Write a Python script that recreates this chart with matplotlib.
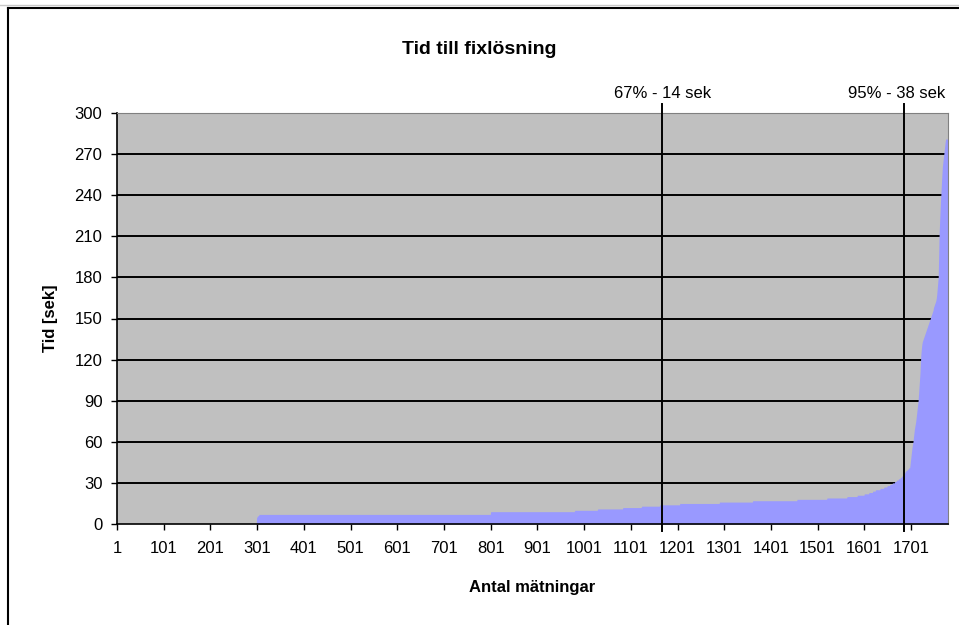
import numpy as np
import matplotlib
matplotlib.use("Agg")
import matplotlib.pyplot as plt
from matplotlib.lines import Line2D

plt.rcParams['font.family'] = ['Liberation Sans', 'DejaVu Sans']

# sorterade tider [sek] med antal mätningar per värde
tid_varden = [0, 5, 6, 7, 9, 10, 11, 12, 13, 14, 15, 16, 17, 18, 19, 20, 21, 22, 23, 24,
              25, 26, 27, 28, 29, 30, 31, 32, 33, 34, 35, 36, 37, 38, 39, 40, 41]
antal = [299, 2, 3, 496, 180, 49, 54, 40, 39, 43, 85, 71, 95, 64, 43, 22, 15, 10, 8, 6,
         10, 8, 7, 6, 5, 5, 4, 4, 4, 3, 3, 2, 2, 2, 3, 3, 3]
# de sista (längsta) tiderna, en mätning var
svans = [44, 47, 50, 53, 56, 58, 60, 63, 66, 69, 71, 73, 75, 78, 81, 84, 87, 90, 95, 100,
         105, 110, 118, 124, 128, 131, 133, 134, 135, 136, 137, 138, 139, 140, 141, 142,
         143, 144, 145, 146, 147, 148, 149, 150, 151, 152, 153, 154, 155, 156, 158, 159,
         160, 161, 162, 163, 165, 168, 172, 176, 180, 195, 212, 220, 228, 236, 242, 249,
         255, 261, 264, 267, 270, 273, 276, 279, 281, 281, 281, 281, 281, 281]

percentiler = [1168, 1686]
percentil_text = ["67% - 14 sek", "95% - 38 sek"]

tid = np.concatenate([np.repeat(tid_varden, antal), svans])
n = len(tid)
x = np.arange(1, n + 1)

fig = plt.figure(figsize=(9.59, 6.25), dpi=100)
ax = fig.add_axes([117/959, (625-524)/625, (948-117)/959, (524-113)/625])
ax.set_facecolor('#c0c0c0')

for y in range(30, 300, 30):
    ax.axhline(y, color='black', lw=1.4, zorder=1)
ax.fill_between(x, 0, tid, color='#9999ff', lw=0, zorder=2)

# percentil-linjer, går lite utanför diagrammet
for p, t, dx in zip(percentiler, percentil_text, [0, -17]):
    ax.plot([p, p], [-5, 306.5], color='black', lw=1.4, zorder=3, clip_on=False)
    ax.text(p + dx, 314, t, ha='center', va='center', fontsize=12)

ax.set_xlim(1, n)
ax.set_ylim(0, 300)
ax.set_yticks(range(0, 301, 30))
ax.set_xticks(range(1, n, 100))
ax.tick_params(direction='out', length=4.5, width=1, colors='black', labelsize=12, pad=8)
ax.tick_params(axis='y', pad=6)
for s in ['top', 'right']:
    ax.spines[s].set_color('#808080')
for s in ['left', 'bottom']:
    ax.spines[s].set_color('black')
    ax.spines[s].set_linewidth(1.2)

ax.set_xlabel('Antal mätningar', fontsize=12, fontweight='bold', labelpad=17)
ax.set_ylabel('Tid [sek]', fontsize=12, fontweight='bold', labelpad=12)
fig.text(0.5, 1 - 49/625, 'Tid till fixlösning', ha='center', va='center',
         fontsize=14, fontweight='bold')

# ram runt diagramobjektet
fig.add_artist(Line2D([0, 1], [1 - 5/625, 1 - 5/625], color='#c8c8c8', lw=1))
fig.add_artist(Line2D([8/959, 1], [1 - 8/625, 1 - 8/625], color='black', lw=1.5))
fig.add_artist(Line2D([8/959, 8/959], [0, 1 - 8/625], color='black', lw=1.5))

fig.savefig('out.png', dpi=100)
